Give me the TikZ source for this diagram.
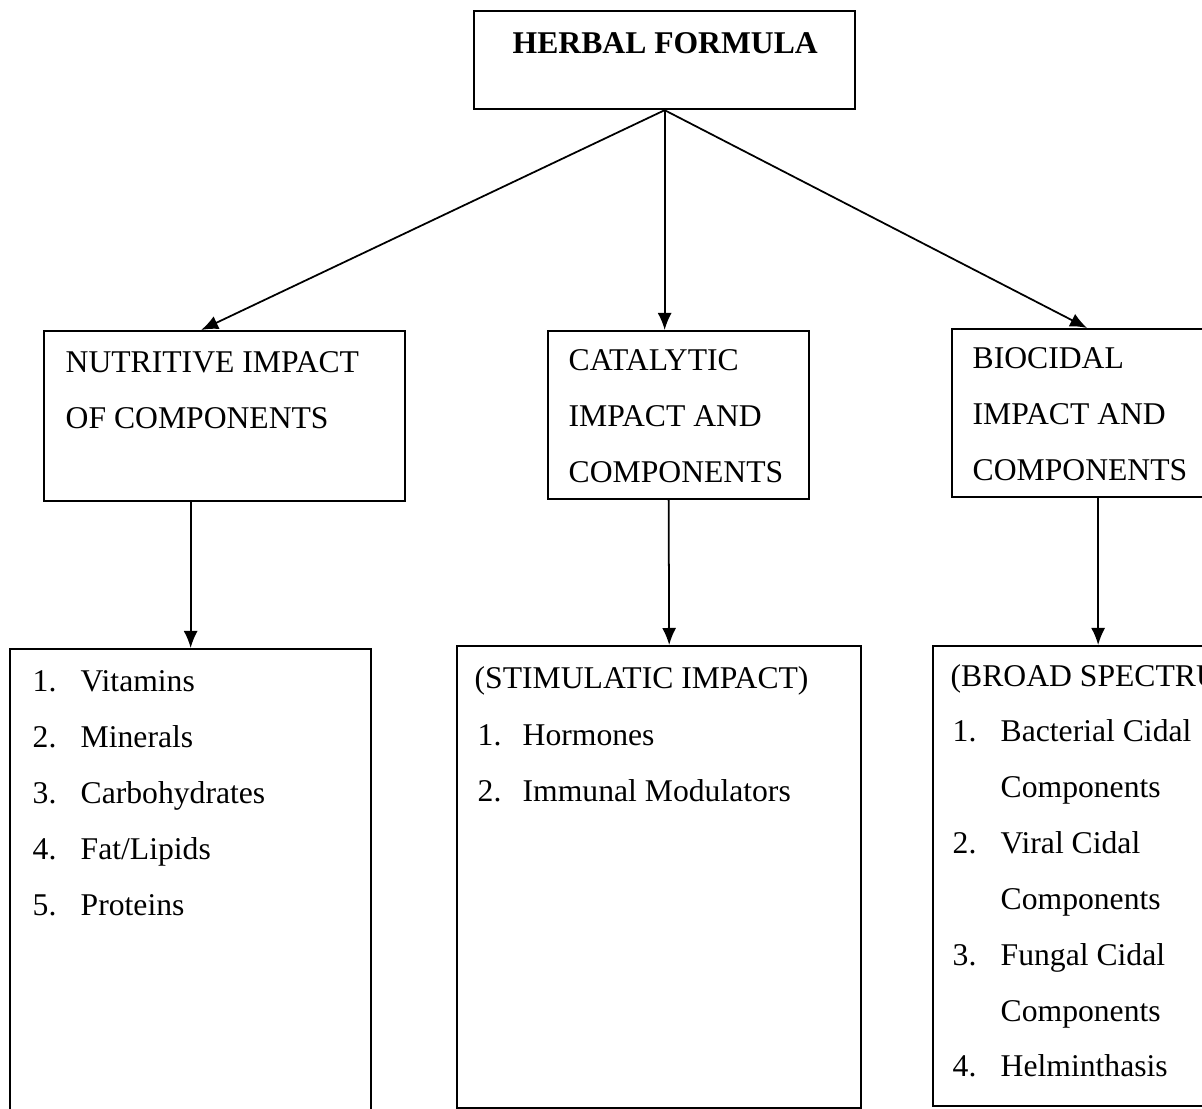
\documentclass[tikz,border=0pt]{standalone}
\usepackage{fontspec}
\setmainfont{Liberation Serif}
\usetikzlibrary{arrows.meta}
\usetikzlibrary{positioning}
\tikzset{box/.style = {draw, line width = 0.6pt, anchor = north west, inner sep = 0}}
\tikzset{txt/.style = {anchor = base west, inner sep = 0, font = \fontsize{9}{10}\selectfont}}
\tikzset{arr/.style = {-{Latex[length = 1.7mm, width = 1.4mm]}, line width = 0.5pt}}

\begin{document}
\begin{tikzpicture}[x=0.01cm, y=-0.01cm]
  \useasboundingbox (0, 0) rectangle (1202, 1109);
  \clip (0, 0) rectangle (1202, 1109);

  \node [box, minimum width = 3.81cm, minimum height = 0.98cm] (herbal) at (473, 10) {};
  \node [box, minimum width = 3.61cm, minimum height = 1.70cm] (nutri) at (43, 330) {};
  \node [box, minimum width = 2.61cm, minimum height = 1.68cm] (catal) at (547, 330) {};
  \node [box, minimum width = 2.70cm, minimum height = 1.68cm] (bioc) at (951, 328) {};
  \node [box, minimum width = 3.61cm, minimum height = 4.80cm] (nlist) at (9, 648) {};
  \node [box, minimum width = 4.04cm, minimum height = 4.62cm] (clist) at (456, 645) {};
  \node [box, minimum width = 3.30cm, minimum height = 4.60cm] (blist) at (932, 645) {};

  \node [txt, font = \bfseries\fontsize{9}{10}\selectfont] (herbaltxt) at (512, 54) {HERBAL FORMULA};

  \node [txt] (nutri1) at (65, 372) {NUTRITIVE IMPACT};
  \node [txt] (nutri2) at (65, 428) {OF COMPONENTS};
  \node [txt] (catal1) at (568, 370) {CATALYTIC};
  \node [txt] (catal2) at (568, 426) {IMPACT AND};
  \node [txt] (catal3) at (568, 482) {COMPONENTS};
  \node [txt] (bioc1) at (972, 368) {BIOCIDAL};
  \node [txt] (bioc2) at (972, 424) {IMPACT AND};
  \node [txt] (bioc3) at (972, 480) {COMPONENTS};

  \foreach \n/\t [count=\i] in {1./Vitamins, 2./Minerals, 3./Carbohydrates, {4.}/{Fat/Lipids}, 5./Proteins} {
    \node [txt] (nnum\i) at (32, 635 + 56*\i) {\n};
    \node [txt] (nitem\i) at (80, 635 + 56*\i) {\t};
  }

  \node [txt] (chead) at (474, 688) {(STIMULATIC IMPACT)};
  \node [txt] (cnum1) at (477, 745) {1.};
  \node [txt] (citem1) at (522, 745) {Hormones};
  \node [txt] (cnum2) at (477, 801) {2.};
  \node [txt] (citem2) at (522, 801) {Immunal Modulators};

  \node [txt] (bhead) at (950, 686) {(BROAD SPECTRU};
  \node [txt] (bnum1) at (952, 741) {1.};
  \node [txt] (bitem1) at (1000, 741) {Bacterial Cidal};
  \node [txt] (bitem1b) at (1000, 797) {Components};
  \node [txt] (bnum2) at (952, 853) {2.};
  \node [txt] (bitem2) at (1000, 853) {Viral Cidal};
  \node [txt] (bitem2b) at (1000, 909) {Components};
  \node [txt] (bnum3) at (952, 965) {3.};
  \node [txt] (bitem3) at (1000, 965) {Fungal Cidal};
  \node [txt] (bitem3b) at (1000, 1021) {Components};
  \node [txt] (bnum4) at (952, 1076) {4.};
  \node [txt] (bitem4) at (1000, 1076) {Helminthasis};

  \draw [arr] (herbal.south) -- ([xshift=-2.35mm]nutri.north);
  \draw [arr] (herbal.south) -- (herbal.south |- catal.north);
  \draw [arr] (herbal.south) -- (bioc.north);
  \draw [arr] (nlist.north |- nutri.south) -- (nlist.north);
  \draw [arr] ([xshift=-1mm]catal.south) -- ([xshift=1mm]clist.north);
  \draw [arr] (blist.north |- bioc.south) -- (blist.north);
\end{tikzpicture}
\end{document}
